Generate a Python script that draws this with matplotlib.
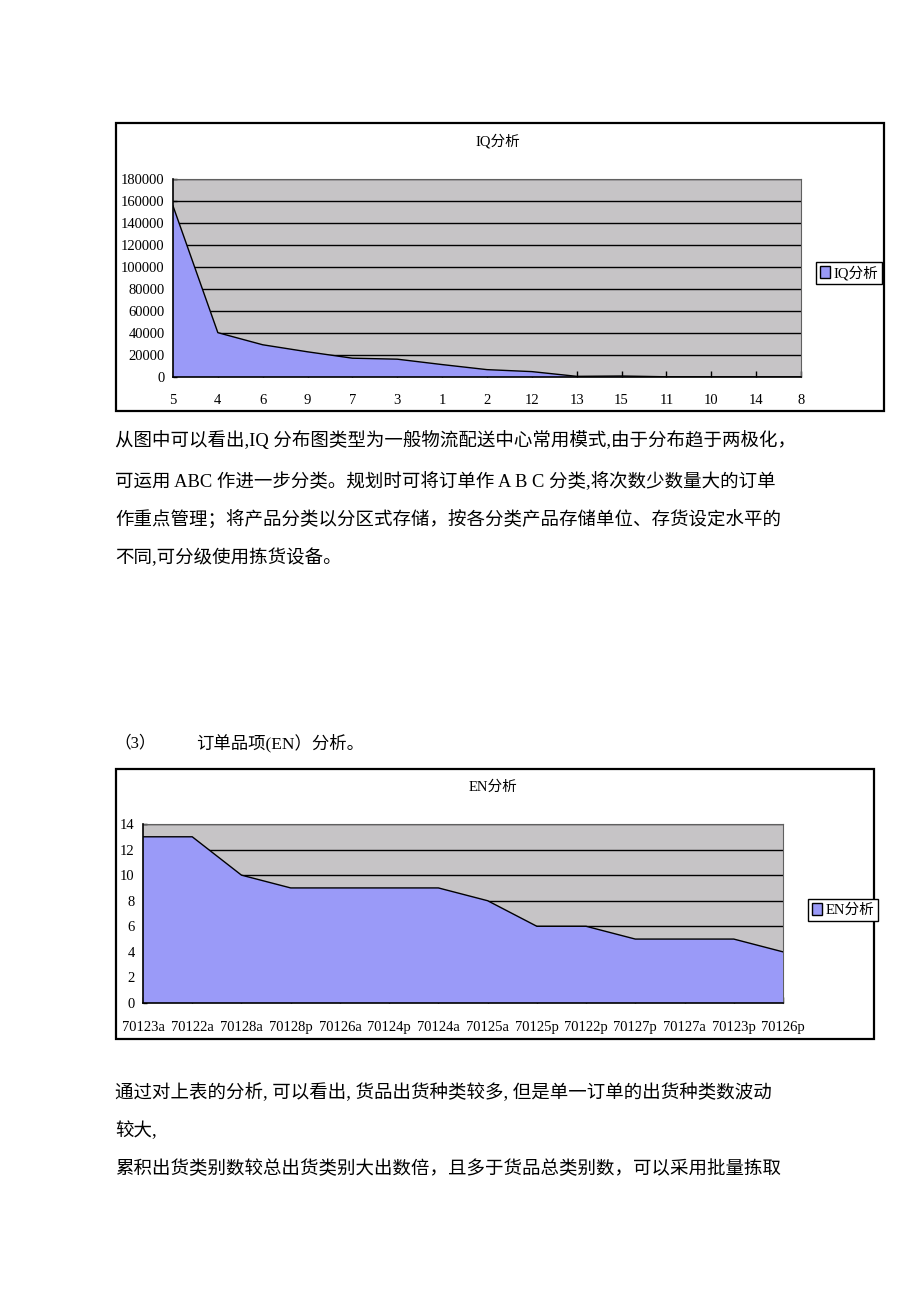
import matplotlib
matplotlib.use("Agg")
import matplotlib.pyplot as plt
from matplotlib.patches import Rectangle, Patch

FAM = ['Liberation Serif', 'Noto Sans CJK SC', 'DejaVu Sans']
plt.rcParams['font.family'] = FAM

# ---- data ----
iq_title = "IQ分析"
iq_categories = ['5', '4', '6', '9', '7', '3', '1', '2', '12', '13', '15', '11', '10', '14', '8']
iq_values = [155500, 40300, 29300, 22900, 17100, 16200, 11300, 6700, 4900, 600, 900, 200, 100, 50, 0]
iq_yticks = [0, 20000, 40000, 60000, 80000, 100000, 120000, 140000, 160000, 180000]

en_title = "EN分析"
en_categories = ['70123a', '70122a', '70128a', '70128p', '70126a', '70124p', '70124a',
                 '70125a', '70125p', '70122p', '70127p', '70127a', '70123p', '70126p']
en_values = [13, 13, 10, 9, 9, 9, 9, 8, 6, 6, 5, 5, 5, 4]
en_yticks = [0, 2, 4, 6, 8, 10, 12, 14]

para1 = ["从图中可以看出,IQ 分布图类型为一般物流配送中心常用模式,由于分布趋于两极化，",
         "可运用 ABC 作进一步分类。规划时可将订单作 A B C 分类,将次数少数量大的订单",
         "作重点管理；将产品分类以分区式存储，按各分类产品存储单位、存货设定水平的",
         "不同,可分级使用拣货设备。"]
heading_num = "（3）"
heading_txt = "订单品项(EN）分析。"
para2 = ["通过对上表的分析, 可以看出, 货品出货种类较多, 但是单一订单的出货种类数波动",
         "较大,",
         "累积出货类别数较总出货类别大出数倍，且多于货品总类别数，可以采用批量拣取"]

W, H = 920, 1302
fig = plt.figure(figsize=(W / 100, H / 100), dpi=100)
fig.patch.set_facecolor('white')

BG = '#c6c4c6'
FILL = '#9a9af8'


def fx(x):
    return x / W


def fy(y):
    return 1 - y / H


def chart(box, plot, title, title_y, cats, vals, yticks, legend_box, xpad, ypad):
    # outer frame
    x0, y0, x1, y1 = box
    fig.patches.append(Rectangle((fx(x0), fy(y1)), fx(x1) - fx(x0), fy(y0) - fy(y1),
                                 transform=fig.transFigure, fill=False,
                                 edgecolor='black', linewidth=1.6, zorder=0))
    px0, py0, px1, py1 = plot
    ax = fig.add_axes([fx(px0), fy(py1), fx(px1) - fx(px0), fy(py0) - fy(py1)])
    ax.set_facecolor(BG)
    xs = list(range(len(cats)))
    ax.fill_between(xs, vals, 0, facecolor=FILL, edgecolor='none', zorder=3)
    ax.plot(xs, vals, color='black', linewidth=1.0, zorder=4)
    ax.set_xlim(0, len(cats) - 1)
    ax.set_ylim(yticks[0], yticks[-1])
    ax.set_yticks(yticks)
    ax.set_xticks(xs)
    ax.set_xticklabels(cats)
    ax.yaxis.grid(True, color='black', linewidth=1.0, zorder=1)
    ax.set_axisbelow(True)
    for s in ['top', 'right']:
        ax.spines[s].set_color('#606060')
        ax.spines[s].set_linewidth(0.8)
    for s in ['left', 'bottom']:
        ax.spines[s].set_color('black')
        ax.spines[s].set_linewidth(1.2)
        ax.spines[s].set_zorder(5)
    ax.tick_params(axis='x', direction='in', length=4, pad=xpad, labelsize=10.5,
                   colors='black', width=1)
    ax.tick_params(axis='y', direction='in', length=3, pad=ypad, labelsize=10.5,
                   colors='black', width=1)
    cx = (x0 + x1) / 2 - 2
    fig.text(fx(cx), fy(title_y), title, ha='center', va='center', fontsize=10.5, family=FAM)
    lx, ly = legend_box
    fig.legend(handles=[Patch(facecolor=FILL, edgecolor='black', linewidth=1.0)],
               labels=[title], loc='center left', bbox_to_anchor=(fx(lx), fy(ly)),
               bbox_transform=fig.transFigure, frameon=True, fancybox=False,
               edgecolor='black', framealpha=1, borderpad=0.25, handlelength=0.7,
               handleheight=0.9, handletextpad=0.25, borderaxespad=0,
               prop={'family': FAM, 'size': 10.5})
    return ax


chart((116, 123, 884, 411), (173, 179, 801, 377), iq_title, 141,
      iq_categories, iq_values, iq_yticks, (816, 273), 12, 6)
chart((116, 769, 874, 1039), (143, 824, 783, 1003), en_title, 787,
      en_categories, en_values, en_yticks, (808, 910), 13, 6)

TS = 13.3
for txt, y in zip(para1, [441, 482, 520, 558]):
    fig.text(fx(115), fy(y), txt, ha='left', va='center', fontsize=TS, family=FAM)

fig.text(fx(114), fy(743), heading_num, ha='left', va='center', fontsize=12, family=FAM)
fig.text(fx(196), fy(743), heading_txt, ha='left', va='center', fontsize=12.5, family=FAM)

for txt, y in zip(para2, [1092, 1131, 1169]):
    fig.text(fx(115), fy(y), txt, ha='left', va='center', fontsize=TS, family=FAM)

fig.savefig('out.png', dpi=100)
